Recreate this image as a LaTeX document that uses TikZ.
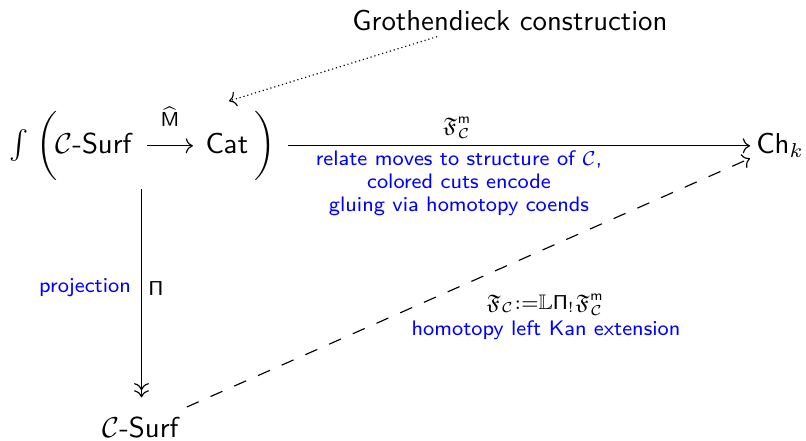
\documentclass[tikz,border=0pt]{standalone}
\usepackage{amsmath,amssymb}
\renewcommand{\familydefault}{\sfdefault}
\usetikzlibrary{arrows.meta,fit}
\tikzset{
  cdarrow/.style={-{Computer Modern Rightarrow}, line width=0.4pt},
  twohead/.style={-{Computer Modern Rightarrow[]Computer Modern Rightarrow}, line width=0.4pt},
  part/.style={anchor=base west, inner sep=0pt},
  lbl/.style={font=\fontsize{7.3}{8}\selectfont, inner sep=0pt},
  bluelbl/.style={lbl, text=blue, align=center},
}
\begin{document}
\begin{tikzpicture}[x=0.3472pt,y=-0.3472pt]
\useasboundingbox (0,0) rectangle (806,440);
\node[anchor=base, inner sep=0pt] (groth) at (510,30) {Grothendieck construction};
% the integral of the functor
\node[part] (intg) at (9,153) {$\int$};
\node[part] (lp) at (36,153) {$\biggl($};
\node[part] (s1) at (55,153) {$\mathcal{C}\text{-}\mathsf{Surf}$};
\node[part] (cat) at (205,153) {$\mathsf{Cat}$};
\node[part] (rp) at (254,153) {$\biggr)$};
\node[fit=(intg)(lp)(s1)(cat)(rp), inner xsep=3.8pt, inner ysep=2.6pt] (top) {};
\node[anchor=base west, inner sep=2pt] (chk) at (750,153) {$\mathsf{Ch}_k$};
\node[anchor=base, inner xsep=2pt, inner ysep=6.6pt] (bot) at (141.5,437) {$\mathcal{C}\text{-}\mathsf{Surf}$};
\coordinate (catTop) at (229,101);

\draw[cdarrow] ([xshift=4.5pt,yshift=2.5pt]s1.base east) -- ([xshift=-4.2pt,yshift=2.5pt]cat.base west)
  node[midway, above=6.5pt, inner sep=0pt] (mhat) {$\scriptstyle\widehat{\mathsf{M}}$};
\draw[cdarrow, densely dotted] ([xshift=-25.3pt,yshift=-2pt]groth.south) -- (catTop);
\draw[cdarrow] (top.east) -- (top.east -| chk.west);
\draw[twohead] (top.south -| bot.north) -- (bot.north);
\draw[cdarrow, dash pattern=on 4.5pt off 4.5pt] (bot) -- (chk);

\node[lbl] (fm) at (457,128) {$\mathfrak{F}^{\mathsf{m}}_{\mathcal{C}}$};
\node[bluelbl] (rel) at (459,183) {relate moves to structure of $\mathcal{C}$,\\ colored cuts encode\\ gluing via homotopy coends};
\node[bluelbl] (proj) at (85,288) {projection};
\node[lbl] (pi) at (156,288) {$\mathsf{\Pi}$};
\node[lbl] (kanf) at (545,305) {$\mathfrak{F}_{\mathcal{C}}{:}{=}\mathbb{L}\mathsf{\Pi}_!\mathfrak{F}^{\mathsf{m}}_{\mathcal{C}}$};
\node[bluelbl] (kan) at (546,330) {homotopy left Kan extension};
\end{tikzpicture}
\end{document}
